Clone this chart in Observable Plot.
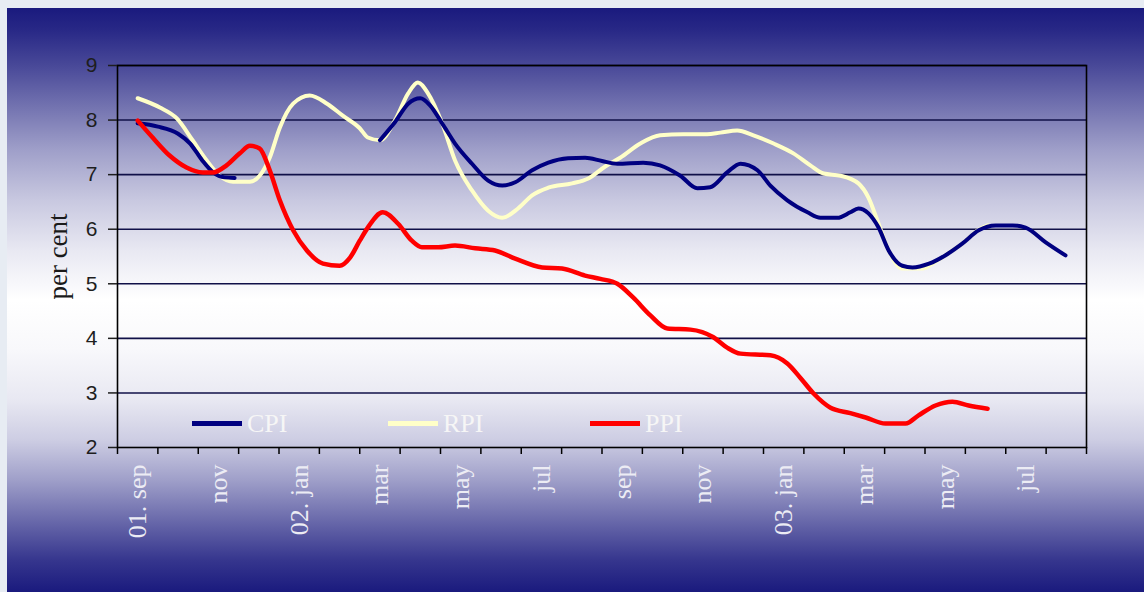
<!DOCTYPE html>
<html>
<head>
<meta charset="utf-8">
<script src="https://cdn.jsdelivr.net/npm/d3@7"></script>
<script src="https://cdn.jsdelivr.net/npm/@observablehq/plot@0.6"></script>
<style>
  html, body { margin: 0; padding: 0; width: 1144px; height: 592px; overflow: hidden; background: #e7ecf3; }
  #panel {
    position: absolute; left: 7px; top: 8px; width: 1137px; height: 584px;
    background: linear-gradient(to bottom,
      #1a1a7e 0px, #282886 22px, #484898 57px, #6c6cac 92px, #9f9fc9 142px,
      #c8c8e0 192px, #e8e8f2 242px, #ffffff 292px, #f8f8fb 342px, #e8e8f2 392px,
      #cdcde3 432px, #9f9fc9 472px, #6a6aab 512px, #36368e 552px, #1a1a7e 584px);
  }
  #panel svg { position: absolute; left: 0; top: 0; background: none; }
  .key { position: absolute; height: 5px; }
  .keytext {
    position: absolute; font: 26px/26px "Liberation Serif", "Times New Roman", serif;
    color: #f6f6f6; white-space: nowrap;
  }
</style>
</head>
<body>
<div id="panel"></div>
<script>
// Monthly categories, September 2001 to August 2003
const months = [
  "01. sep", "oct", "nov", "dec", "02. jan", "feb", "mar", "apr", "may", "jun", "jul", "aug",
  "sep", "oct", "nov", "dec", "03. jan", "feb", "mar", "apr", "may", "jun", "jul", "aug"
];
const yTicks = [2, 3, 4, 5, 6, 7, 8, 9];

// Readings: position in months from Sep 2001 (0 = Sep 2001) and the rate in per cent
const cpiMonth = [0, 0.5, 1.0, 1.3, 1.6, 1.87, 2.15, 2.4, 4.0,
  6.0, 6.37, 6.7, 7.0, 7.24, 7.54, 7.86, 8.28, 8.68, 9.03, 9.35, 9.77, 10.17, 10.66, 11.08,
  11.5, 11.88, 12.52, 12.94, 13.44, 13.86, 14.18, 14.6, 14.93, 15.35, 15.67, 16.09, 16.59,
  16.91, 17.33, 17.65, 17.85, 18.1, 18.35, 18.6, 18.94, 19.19, 19.6, 20.0, 20.43, 20.83,
  21.25, 21.67, 21.99, 22.49, 22.98];
const cpiValue = [7.94, 7.88, 7.75, 7.57, 7.26, 7.04, 6.95, 6.94, null,
  7.63, 7.96, 8.30, 8.40, 8.27, 7.94, 7.57, 7.20, 6.89, 6.80, 6.86, 7.08, 7.22, 7.30, 7.31,
  7.25, 7.20, 7.22, 7.17, 6.98, 6.75, 6.77, 7.04, 7.20, 7.08, 6.80, 6.53, 6.31,
  6.21, 6.21, 6.31, 6.38, 6.29, 6.03, 5.61, 5.33, 5.30, 5.37, 5.52, 5.74, 5.98,
  6.07, 6.07, 6.03, 5.76, 5.52];

const rpiMonth = [0, 0.55, 0.97, 1.36, 1.71, 2.03, 2.36, 2.78, 3.02, 3.27, 3.52, 3.85, 4.26,
  4.69, 5.08, 5.5, 5.7, 6.0, 6.37, 6.7, 6.94, 7.19, 7.54, 7.86, 8.28, 8.68, 9.03, 9.42, 9.77,
  10.17, 10.76, 11.16, 11.58, 11.95, 12.45, 12.94, 13.51, 14.1, 14.43, 14.85, 15.25, 15.75,
  16.24, 16.66, 16.99, 17.41, 17.85, 18.1, 18.35, 18.6, 18.94, 19.44, 19.69, 20.0, 20.43,
  20.83, 21.05];
const rpiValue = [8.40, 8.23, 8.03, 7.63, 7.26, 6.98, 6.87, 6.87, 6.98, 7.31, 7.86, 8.30, 8.45,
  8.30, 8.08, 7.85, 7.68, 7.63, 7.99, 8.49, 8.69, 8.49, 7.94, 7.26, 6.71, 6.34, 6.21, 6.38, 6.62,
  6.76, 6.84, 6.93, 7.15, 7.31, 7.57, 7.72, 7.74, 7.74, 7.77, 7.81, 7.72, 7.57,
  7.39, 7.17, 7.02, 6.98, 6.84, 6.58, 6.10, 5.61, 5.28, 5.28, 5.37, 5.52, 5.74,
  5.99, 6.07];

const ppiMonth = [0, 0.37, 0.79, 1.21, 1.61, 1.87, 2.2, 2.53, 2.78, 3.02, 3.27, 3.52, 3.85,
  4.19, 4.59, 5.0, 5.26, 5.5, 5.7, 6.07, 6.45, 6.79, 7.04, 7.44, 7.86, 8.36, 8.85, 9.35,
  10.02, 10.51, 11.08, 11.46, 11.88, 12.27, 12.7, 13.12, 13.69, 14.26, 14.6, 14.93, 15.67,
  16.09, 16.41, 16.74, 17.16, 17.65, 18.03, 18.52, 19.02, 19.34, 19.76, 20.18, 20.58, 21.05];
const ppiValue = [7.99, 7.68, 7.35, 7.13, 7.04, 7.04, 7.17, 7.39, 7.53, 7.48, 7.08, 6.53, 5.98,
  5.61, 5.37, 5.33, 5.48, 5.79, 6.03, 6.31, 6.10, 5.79, 5.67, 5.67, 5.70, 5.65, 5.61, 5.46,
  5.30, 5.28, 5.15, 5.09, 5.00, 4.75, 4.42, 4.18, 4.16, 4.02, 3.83, 3.72, 3.69,
  3.54, 3.28, 2.99, 2.73, 2.63, 2.55, 2.44, 2.44, 2.59, 2.77, 2.84, 2.77, 2.71];

const seriesNames = ["CPI", "RPI", "PPI"];
const seriesColours = { CPI: "#000080", RPI: "#ffffc8", PPI: "#ff0000" };

const rows = (at, values) => at.map((m, i) => ({ m, v: values[i] }));

// Category boundaries carry the tick marks; every second category is labelled
const boundaries = d3.range(0, months.length + 1).map(i => i - 0.5);
const labelled = d3.range(0, months.length, 2);

const serif = "'Liberation Serif', 'Times New Roman', serif";

const chart = Plot.plot({
  width: 1137,
  height: 584,
  marginLeft: 110,
  marginRight: 58,
  marginTop: 57,
  marginBottom: 145,
  style: { background: "none", overflow: "visible" },
  x: { type: "linear", domain: [-0.5, months.length - 0.5], label: null },
  y: { domain: [2, 9], label: null },
  marks: [
    Plot.gridY(yTicks.slice(1), { stroke: "#101048", strokeOpacity: 1, strokeWidth: 1.6 }),
    Plot.frame({ stroke: "#000", strokeWidth: 1.6 }),
    Plot.axisY(yTicks, {
      tickSize: 9, tickPadding: 11, fontSize: 21, tickFormat: d => String(d),
      fontFamily: "'Liberation Sans', Arial, sans-serif", color: "#1e1e1e", strokeWidth: 1.5, label: null
    }),
    Plot.axisX(boundaries, { tickSize: 7, tickFormat: () => "", color: "#000", strokeWidth: 1.5, label: null }),
    Plot.axisX(labelled, {
      tickSize: 0, tickPadding: 17, tickRotate: -90, tickFormat: d => months[d],
      fontSize: 26, fontFamily: serif, color: "#ececf4", label: null
    }),
    Plot.text(["per cent"], {
      text: d => d, frameAnchor: "left", textAnchor: "middle", dx: -59, rotate: -90, fontSize: 27,
      fontFamily: serif, fill: "#1a1a1a"
    }),
    Plot.line(rows(rpiMonth, rpiValue), { x: "m", y: "v", stroke: seriesColours.RPI, strokeWidth: 4, curve: "monotone-x" }),
    Plot.line(rows(cpiMonth, cpiValue), { x: "m", y: "v", stroke: seriesColours.CPI, strokeWidth: 4, curve: "monotone-x" }),
    Plot.line(rows(ppiMonth, ppiValue), { x: "m", y: "v", stroke: seriesColours.PPI, strokeWidth: 4.5, curve: "monotone-x" })
  ]
});

const panel = document.getElementById("panel");
panel.appendChild(chart);

// Key inside the plot area
const keySpots = [
  { name: "CPI", line: 185, text: 240 },
  { name: "RPI", line: 381, text: 436 },
  { name: "PPI", line: 583, text: 638 }
];
for (const k of keySpots) {
  const line = document.createElement("div");
  line.className = "key";
  line.style.left = k.line + "px";
  line.style.width = "50px";
  line.style.top = "413px";
  line.style.background = seriesColours[k.name];
  panel.appendChild(line);
  const label = document.createElement("div");
  label.className = "keytext";
  label.style.left = k.text + "px";
  label.style.top = "403px";
  label.textContent = k.name;
  panel.appendChild(label);
}
</script>
</body>
</html>
